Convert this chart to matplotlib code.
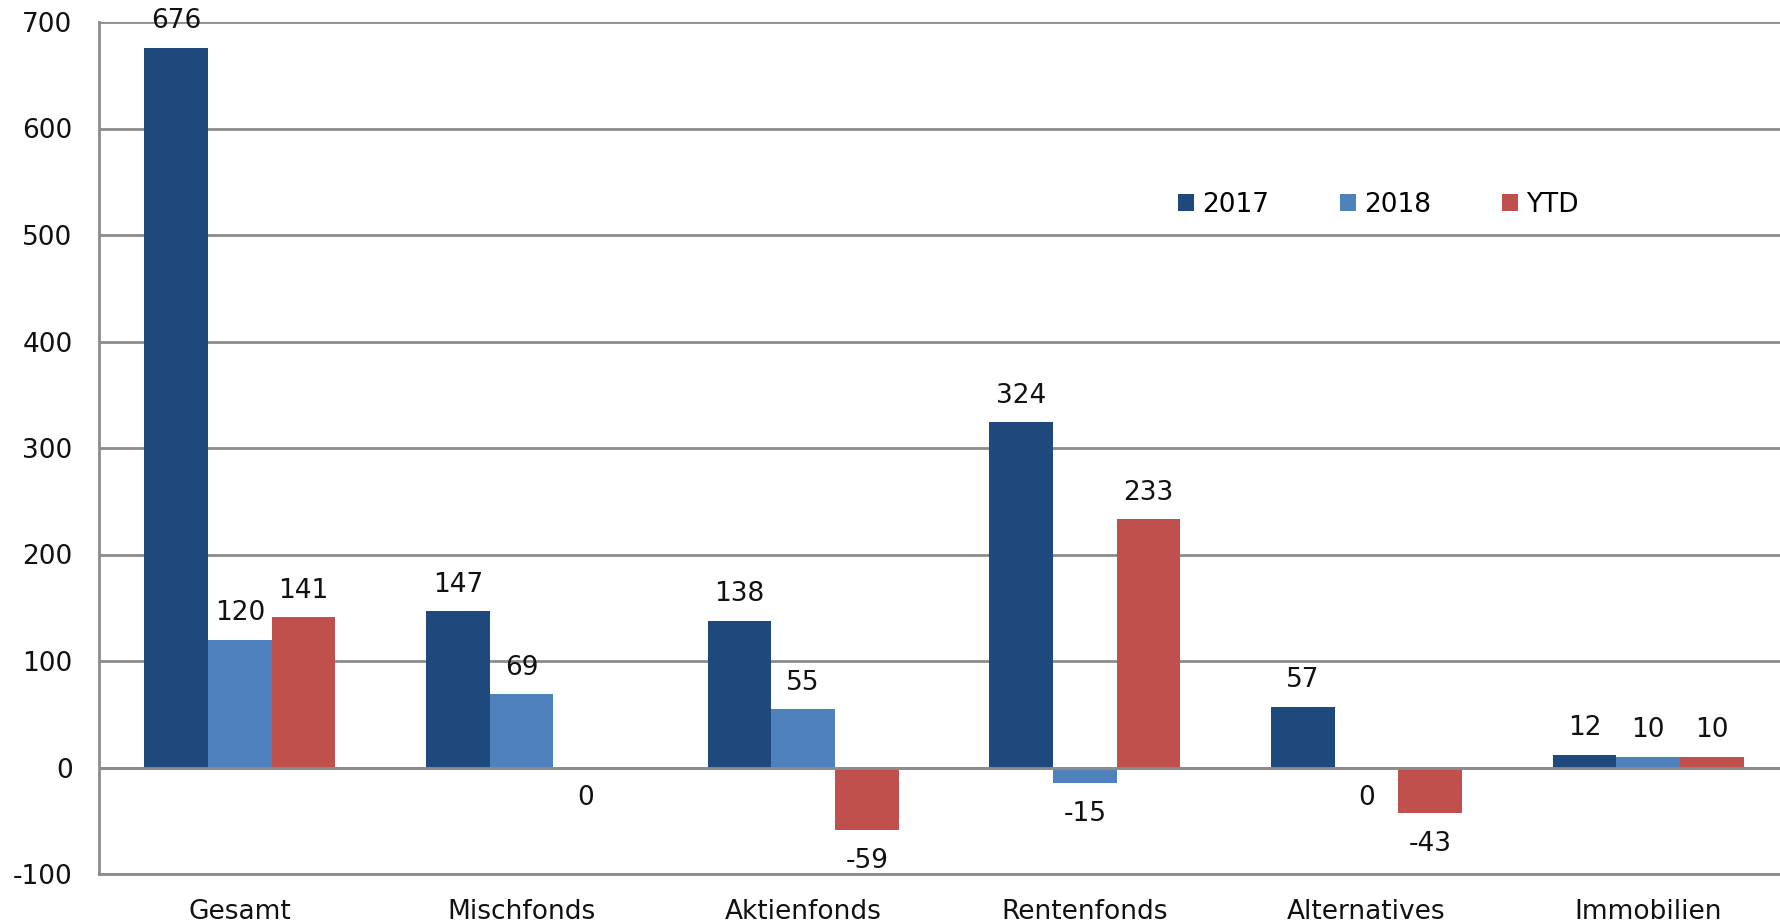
import numpy as np
import matplotlib
matplotlib.use("Agg")
import matplotlib.pyplot as plt

# Daten
kategorien = ["Gesamt", "Mischfonds", "Aktienfonds", "Rentenfonds", "Alternatives", "Immobilien"]
werte_2017 = [676, 147, 138, 324, 57, 12]
werte_2018 = [120, 69, 55, -15, 0, 10]
werte_ytd = [141, 0, -59, 233, -43, 10]
serien = ["2017", "2018", "YTD"]
farben = ["#1F497D", "#4F81BD", "#C0504D"]

plt.rcParams['font.family'] = ['DejaVu Sans']
plt.rcParams['axes.unicode_minus'] = False
fs = 19

fig = plt.figure(figsize=(17.8, 9.24), dpi=100)
# Achse ragt rechts leicht über den Bildrand hinaus
ax = fig.add_axes([99/1780, 1 - 874/924, (1789 - 99)/1780, 852/924])

x = np.arange(len(kategorien))
breite = 0.226
for i, (werte, name, farbe) in enumerate(zip([werte_2017, werte_2018, werte_ytd], serien, farben)):
    pos = x + (i - 1) * breite
    ax.bar(pos, werte, breite, color=farbe, label=name, zorder=3)
    for px, w in zip(pos, werte):
        # Beschriftung oberhalb bei positiven, unterhalb bei 0 / negativ
        if w > 0:
            ax.annotate(str(w), (px, w), xytext=(0, 19), textcoords="offset points",
                        ha="center", va="center", fontsize=fs, color="#111111")
        else:
            ax.annotate(str(w), (px, w), xytext=(0, -22), textcoords="offset points",
                        ha="center", va="center", fontsize=fs, color="#111111")

ax.set_xlim(-0.5, len(kategorien) - 0.5)
ax.set_ylim(-100, 700)
ax.set_yticks(np.arange(-100, 701, 100))
ax.set_xticks(x)
ax.set_xticklabels(kategorien)
ax.tick_params(axis="both", length=0, labelsize=fs, colors="#111111")
ax.tick_params(axis="y", pad=19)
ax.tick_params(axis="x", pad=18)

ax.yaxis.grid(True, color="#8C8C8C", linewidth=2, zorder=0)
ax.axhline(0, color="#8C8C8C", linewidth=2, zorder=4)
for s in ["top", "right"]:
    ax.spines[s].set_visible(False)
for s in ["left", "bottom"]:
    ax.spines[s].set_color("#8C8C8C")
    ax.spines[s].set_linewidth(2)

ax.legend(loc="center", bbox_to_anchor=(0.757, 0.785), ncol=3, frameon=False,
          fontsize=fs, handlelength=0.6, handleheight=0.6, handletextpad=0.3,
          columnspacing=2.7)

fig.savefig("out.png", dpi=100)
